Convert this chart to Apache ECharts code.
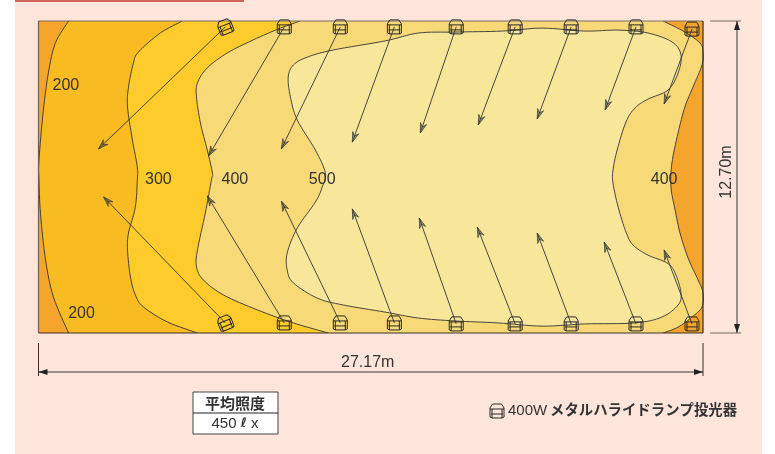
<!DOCTYPE html>
<html><head><meta charset="utf-8">
<style>html,body{margin:0;padding:0;background:#fff}#c{width:775px;height:454px}</style>
<script src="https://cdn.jsdelivr.net/npm/echarts@6/dist/echarts.min.js"></script>
</head><body><div id="c"></div>
<script>
// All values are metres on the 27.17 x 12.70 m floor plan.
const floorWidth = 27.17, floorHeight = 12.70;
const widthLabel = '27.17m', heightLabel = '12.70m';
const contour200 = [[1.23,12.70],[0.69,11.80],[0.41,10.62],[0.20,9.08],[0.02,7.04],[0.02,6.23],[0.08,4.88],[0.29,2.97],[0.61,1.47],[1.23,0]];
const contour300 = [[5.88,12.70],[4.98,12.21],[4.09,11.44],[3.88,10.99],[3.68,10.01],[3.64,9.20],[3.84,7.86],[4.04,6.76],[4.04,6.23],[3.96,5.13],[3.68,4.07],[3.64,3.38],[3.76,2.28],[3.96,1.55],[4.29,1.06],[5.27,0.45],[6.50,0]];
const contour400Left = [[10.70,12.70],[9.89,12.41],[8.78,11.93],[7.72,11.40],[6.90,10.79],[6.50,10.18],[6.46,9.61],[6.62,8.55],[6.90,7.45],[7.11,6.51],[7.07,6.23],[6.82,4.88],[6.50,3.38],[6.46,2.69],[6.74,2.16],[7.56,1.55],[8.95,0.94],[10.42,0.41],[11.85,0]];
const contour400Right = [[25.54,0],[26.15,0.24],[26.72,0.65],[27.13,1.06],[27.17,1.63],[26.97,2.16],[26.56,3.05],[26.23,4.07],[26.03,5.01],[25.86,5.94],[25.90,6.92],[26.15,8.14],[26.43,9.20],[26.76,10.01],[27.13,10.91],[27.17,11.44],[27.05,11.80],[26.43,12.25],[25.54,12.70]];
const contour500 = [[12.05,11.52],[10.99,11.23],[10.42,10.91],[10.21,10.42],[10.30,9.61],[10.58,8.67],[11.32,7.45],[11.73,6.51],[11.60,5.94],[11.32,5.33],[10.58,4.27],[10.17,3.26],[10.17,2.56],[10.42,2.04],[11.40,1.42],[12.46,1.14],[14.18,0.85],[15.53,0.61],[17.04,0.49],[18.79,0.41],[20.59,0.28],[22.35,0.37],[24.39,0.41],[25.49,0.65],[26.15,1.14],[26.27,1.63],[26.03,2.44],[25.70,2.85],[24.92,3.17],[24.31,3.58],[24.02,4.11],[23.70,5.13],[23.49,6.11],[23.49,6.63],[23.66,7.45],[24.02,8.59],[24.39,9.16],[24.92,9.52],[25.74,9.89],[26.15,10.58],[26.27,11.32],[25.90,11.85],[24.92,12.21],[23.70,12.33],[22.35,12.29],[20.59,12.41],[18.96,12.29],[17.04,12.25],[15.53,12.21],[14.18,11.89]];
const lampX = [7.64,10.05,12.34,14.55,17.08,19.49,21.78,24.43,26.72];
const lampTopY = [12.46,12.46,12.46,12.46,12.46,12.46,12.46,12.46,12.37];
const lampBottomY = [0.41,0.41,0.41,0.41,0.37,0.37,0.37,0.37,0.37];
const lampTilt = [0.38,0,0,0,0,0,0,0,0];
const aimTop = [[2.45,7.49],[6.95,7.20],[9.93,7.49],[12.83,7.77],[15.61,8.14],[17.98,8.47],[20.39,8.71],[23.17,9.08],[25.58,9.32]];
const aimBottom = [[2.66,5.54],[6.90,5.58],[9.93,5.37],[12.83,5.05],[15.57,4.68],[17.94,4.31],[20.39,4.07],[23.13,3.70],[25.58,3.38]];
const levelLabels = [['200',1.12,10.09],['300',4.90,6.23],['400',8.03,6.23],['500',11.60,6.23],['400',25.58,6.23],['200',1.76,0.77]];
const tableTitle = '平均照度', tableValue = '450', tableUnitL = 'ℓ', tableUnitX = ' x';
const legendWatt = '400W', legendName = 'メタルハライドランプ投光器';

const INK = '#333', SANS = '"Liberation Sans",Arial,sans-serif', CJK = '"Noto Sans CJK JP",sans-serif';
function spline(p, closed) {
  const n = p.length, out = [];
  const g = i => closed ? p[(i + n) % n] : p[Math.max(0, Math.min(n - 1, i))];
  const segs = closed ? n : n - 1;
  for (let i = 0; i < segs; i++) {
    const a = g(i - 1), b = g(i), c = g(i + 1), d = g(i + 2);
    for (let k = 0; k < 8; k++) {
      const t = k / 8, t2 = t * t, t3 = t2 * t;
      out.push([0, 1].map(j => 0.5 * (2 * b[j] + (c[j] - a[j]) * t + (2 * a[j] - 5 * b[j] + 4 * c[j] - d[j]) * t2 + (3 * b[j] - a[j] - 3 * c[j] + d[j]) * t3)));
    }
  }
  out.push(closed ? out[0] : p[n - 1]);
  return out;
}
function zoneSeries(name, data, fill, lines, fillPts) {
  return {
    type: 'custom', name, coordinateSystem: 'cartesian2d', clip: true, silent: true, z: 3,
    data: data,
    renderItem(params, api) {
      if (params.dataIndex !== 0) return null;
      const toPx = a => a.map(q => api.coord(q));
      const children = [{ type: 'polygon', shape: { points: toPx(fillPts) }, style: { fill, stroke: 'none' } }];
      lines.forEach(l => children.push({ type: 'polyline', shape: { points: toPx(l) }, style: { fill: 'none', stroke: INK, lineWidth: 0.9 } }));
      return { type: 'group', children };
    }
  };
}
const s200 = spline(contour200), s300 = spline(contour300), s400L = spline(contour400Left), s400R = spline(contour400Right), s500 = spline(contour500, true);
const arrows = [];
lampX.forEach((x, i) => { arrows.push([x, lampTopY[i], aimTop[i][0], aimTop[i][1]]); arrows.push([x, lampBottomY[i], aimBottom[i][0], aimBottom[i][1]]); });
const lamps = [];
lampX.forEach((x, i) => { lamps.push([x, lampTopY[i], lampTilt[i]]); lamps.push([x, lampBottomY[i], lampTilt[i]]); });

function lampIcon(cx, cy, tilt, s) {
  const L = (pts, extra) => ({ type: 'polyline', shape: { points: pts.map(p => [p[0] * s, p[1] * s]) }, style: Object.assign({ fill: 'none', stroke: '#2a2a2a', lineWidth: 1 }, extra || {}) });
  return { type: 'group', x: cx, y: cy, rotation: tilt, children: [
    L([[-4.5,-7],[4.5,-7],[7,-3],[7,6],[5,7],[-5,7],[-7,6],[-7,-3],[-4.5,-7]]),
    L([[-7,-2],[7,-2]]), L([[-6,3],[6,3]]),
    L([[-5,-2],[-5,7]]), L([[5,-2],[5,7]])
  ] };
}
const option = {
  animation: false,
  backgroundColor: 'transparent',
  grid: { left: 38.5, right: 72, top: 21, bottom: 121, containLabel: false },
  xAxis: { type: 'value', min: 0, max: floorWidth, show: false },
  yAxis: { type: 'value', min: 0, max: floorHeight, show: false },
  graphic: { elements: [
    { type: 'rect', z: -10, shape: { x: 15, y: 0, width: 747, height: 454 }, style: { fill: '#FDE5DB' } },
    { type: 'rect', z: -9, shape: { x: 15, y: 0, width: 229, height: 2 }, style: { fill: '#CC6560' } },
    { type: 'rect', z: 5, shape: { x: 193, y: 392, width: 85, height: 42 }, style: { fill: '#fff', stroke: '#444', lineWidth: 1 } },
    { type: 'line', z: 6, shape: { x1: 193, y1: 413, x2: 278, y2: 413 }, style: { stroke: '#222', lineWidth: 1 } },
    { type: 'text', z: 6, x: 235, y: 403.5, style: { text: tableTitle, fill: INK, align: 'center', verticalAlign: 'middle', fontFamily: CJK, fontWeight: 'bold', fontSize: 15 } },
    { type: 'text', z: 6, x: 235, y: 423.5, style: { text: '{a|' + tableValue + ' }{b|' + tableUnitL + '}{a|' + tableUnitX + '}', align: 'center', verticalAlign: 'middle', rich: {
        a: { fontFamily: SANS, fontSize: 15, fill: INK },
        b: { fontFamily: '"DejaVu Sans",sans-serif', fontStyle: 'italic', fontWeight: 'bold', fontSize: 13, fill: INK } } } },
    Object.assign(lampIcon(497, 411, 0, 1), { z: 6 }),
    { type: 'text', z: 6, x: 508, y: 411, style: { text: legendWatt, fill: INK, align: 'left', verticalAlign: 'middle', fontFamily: SANS, fontSize: 15 } },
    { type: 'text', z: 6, x: 550, y: 410, style: { text: legendName, fill: INK, align: 'left', verticalAlign: 'middle', fontFamily: CJK, fontWeight: 'bold', fontSize: 14.4 } }
  ] },
  series: [
    zoneSeries('100', [[0, 0], [floorWidth, floorHeight]], '#F5A52C', [], [[0, 0], [floorWidth, 0], [floorWidth, floorHeight], [0, floorHeight]]),
    zoneSeries('200', contour200, '#F8BC22', [s200], s200.concat([[14, 0], [14, floorHeight]])),
    zoneSeries('300', contour300, '#FDCB2B', [s300], s300.concat([[14, 0], [14, floorHeight]])),
    zoneSeries('400', contour400Left.concat(contour400Right), '#F8D977', [s400L, s400R], s400L.concat(s400R)),
    zoneSeries('500', contour500, '#F8E79B', [s500], s500),
    {
      type: 'custom', name: 'frame', coordinateSystem: 'cartesian2d', clip: false, silent: true, z: 4,
      data: [[0, 0], [floorWidth, floorHeight]],
      renderItem(params, api) {
        if (params.dataIndex !== 0) return null;
        const a = api.coord([0, 0]), b = api.coord([floorWidth, floorHeight]);
        const ln = (x1, y1, x2, y2, c, w) => ({ type: 'line', shape: { x1, y1, x2, y2 }, style: { stroke: c, lineWidth: w } });
        const head = (x, y, dx, dy) => ({ type: 'polygon', shape: { points: [[x, y], [x - dx * 9 - dy * 3, y - dy * 9 - dx * 3], [x - dx * 9 + dy * 3, y - dy * 9 + dx * 3]] }, style: { fill: '#222' } });
        const dimX = b[0] + 34, dimY = a[1] + 39;
        return { type: 'group', children: [
          ln(a[0], b[1], b[0], b[1], '#7b6c62', 1.2), ln(a[0], b[1], a[0], a[1], '#6e6058', 1.2),
          ln(a[0], a[1], b[0], a[1], '#3a3028', 1.2), ln(b[0], b[1], b[0], a[1], '#2c2c2c', 1.2),
          ln(b[0] + 7, b[1], b[0] + 38, b[1], '#8a7d76', 1.2), ln(b[0] + 7, a[1], b[0] + 38, a[1], '#8a7d76', 1.2),
          ln(dimX, b[1], dimX, a[1], '#222', 0.9), head(dimX, b[1], 0, -1), head(dimX, a[1], 0, 1),
          ln(a[0], a[1] + 10, a[0], a[1] + 43, '#333', 1), ln(b[0], a[1] + 10, b[0], a[1] + 43, '#333', 1),
          ln(a[0], dimY, b[0], dimY, '#222', 0.9), head(a[0], dimY, -1, 0), head(b[0], dimY, 1, 0),
          { type: 'text', x: (a[0] + b[0]) / 2 - 3, y: dimY - 9, style: { text: widthLabel, fill: INK, align: 'center', verticalAlign: 'middle', fontFamily: SANS, fontSize: 16 } },
          { type: 'text', x: b[0] + 24, y: (a[1] + b[1]) / 2 - 5, rotation: Math.PI / 2, style: { text: heightLabel, fill: INK, align: 'center', verticalAlign: 'middle', fontFamily: SANS, fontSize: 16 } }
        ] };
      }
    },
    {
      type: 'custom', name: 'aim', coordinateSystem: 'cartesian2d', clip: false, silent: true, z: 5,
      encode: { x: 0, y: 1 }, data: arrows,
      renderItem(params, api) {
        const s = api.coord([api.value(0), api.value(1)]), t = api.coord([api.value(2), api.value(3)]);
        const dx = t[0] - s[0], dy = t[1] - s[1], len = Math.hypot(dx, dy), ux = dx / len, uy = dy / len;
        const p = (back, side) => [t[0] - ux * back - uy * side, t[1] - uy * back + ux * side];
        return { type: 'group', children: [
          { type: 'line', shape: { x1: s[0], y1: s[1], x2: t[0], y2: t[1] }, style: { stroke: INK, lineWidth: 0.9 } },
          { type: 'polygon', shape: { points: [t, p(10, 3.2), p(6.5, 0), p(10, -3.2)] }, style: { fill: 'rgba(70,70,60,0.55)', stroke: INK, lineWidth: 0.7 } }
        ] };
      }
    },
    {
      type: 'custom', name: 'lamp', coordinateSystem: 'cartesian2d', clip: false, silent: true, z: 6,
      encode: { x: 0, y: 1 }, data: lamps,
      renderItem(params, api) {
        const c = api.coord([api.value(0), api.value(1)]);
        return lampIcon(c[0], c[1], api.value(2), 1);
      }
    },
    {
      type: 'custom', name: 'level', coordinateSystem: 'cartesian2d', clip: false, silent: true, z: 7,
      encode: { x: 1, y: 2 }, data: levelLabels,
      renderItem(params, api) {
        const r = levelLabels[params.dataIndex], c = api.coord([r[1], r[2]]);
        return { type: 'text', x: c[0], y: c[1], style: { text: r[0], fill: INK, align: 'center', verticalAlign: 'middle', fontFamily: SANS, fontSize: 16 } };
      }
    }
  ]
};
echarts.init(document.getElementById('c')).setOption(option);
</script></body></html>
